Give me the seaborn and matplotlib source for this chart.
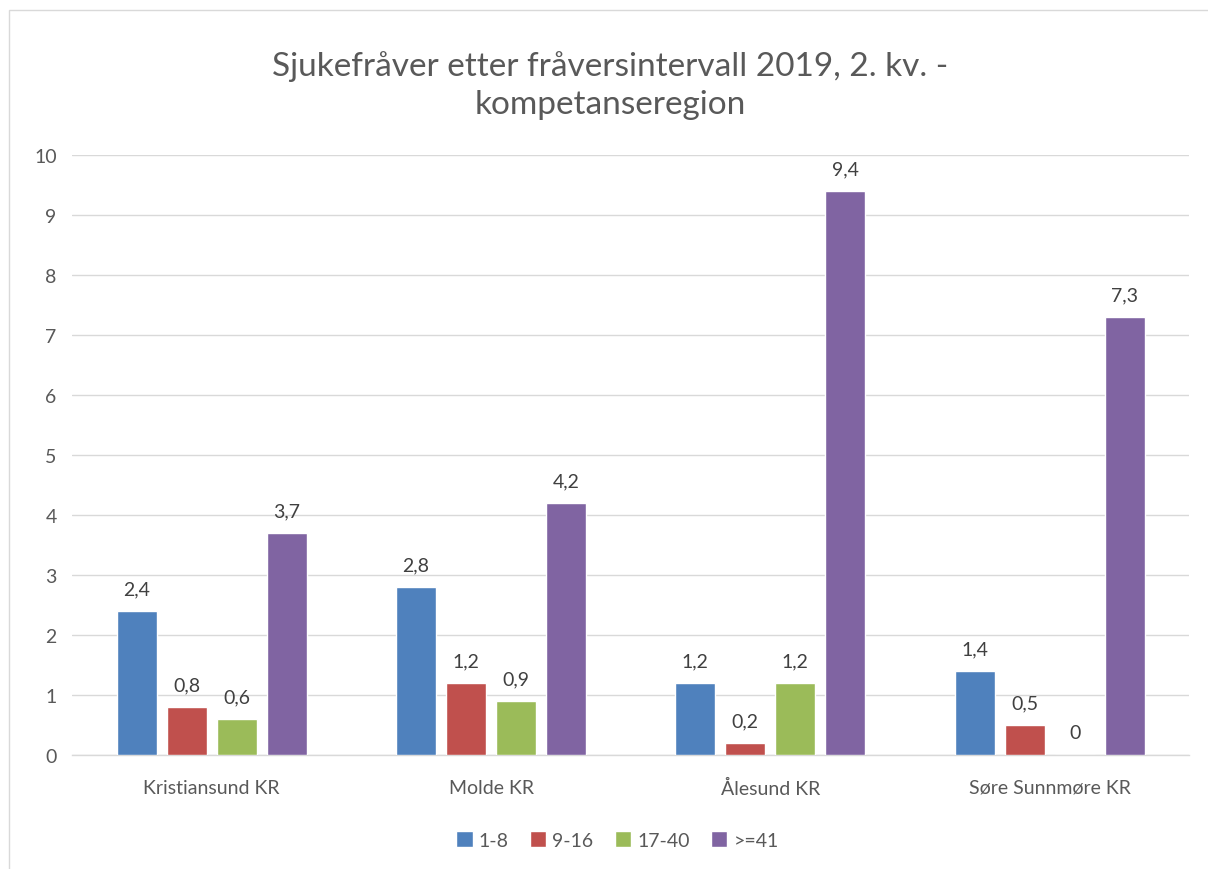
import pandas as pd
import matplotlib.pyplot as plt
import matplotlib.patches as patches
import seaborn as sns

sns.set_style("white")
plt.rcParams["font.family"] = ["Lato", "DejaVu Sans"]

# Data
regions = ["Kristiansund KR", "Molde KR", "Ålesund KR", "Søre Sunnmøre KR"]
intervals = ["1-8", "9-16", "17-40", ">=41"]
v_1_8 = [2.4, 2.8, 1.2, 1.4]
v_9_16 = [0.8, 1.2, 0.2, 0.5]
v_17_40 = [0.6, 0.9, 1.2, 0.0]
v_41 = [3.7, 4.2, 9.4, 7.3]
colors = ["#4F81BD", "#C0504D", "#9BBB59", "#8064A2"]

df = pd.DataFrame({
    "region": regions * 4,
    "interval": [i for i in intervals for _ in regions],
    "value": v_1_8 + v_9_16 + v_17_40 + v_41,
})

text_col = "#595959"
grid_col = "#D9D9D9"

fig = plt.figure(figsize=(12.08, 8.70), dpi=100)
ax = fig.add_axes([0.0596, 0.131, 0.925, 0.6897])

sns.barplot(data=df, x="region", y="value", hue="interval", order=regions,
            hue_order=intervals, palette=colors, width=0.716, gap=0.2,
            saturation=1, ax=ax, zorder=3)

ax.set_ylim(0, 10)
ax.set_yticks(range(0, 11))
ax.set_xlim(-0.5, 3.5)
ax.yaxis.grid(True, color=grid_col, linewidth=1, zorder=0)
ax.set_axisbelow(True)
for s in ["top", "right", "left"]:
    ax.spines[s].set_visible(False)
ax.spines["bottom"].set_color(grid_col)
ax.spines["bottom"].set_linewidth(1)
ax.tick_params(axis="both", length=0, labelsize=14, colors=text_col)
ax.tick_params(axis="y", pad=11)
ax.tick_params(axis="x", pad=17)
ax.set_xlabel("")
ax.set_ylabel("")

# data labels with comma decimals
for cont in ax.containers:
    labs = []
    for v in cont.datavalues:
        labs.append("0" if v == 0 else f"{v:.1f}".replace(".", ","))
    ax.bar_label(cont, labels=labs, padding=10, fontsize=14, color="#404040")

ax.legend(loc="upper center", bbox_to_anchor=(0.488, -0.098), ncol=4,
          frameon=False, fontsize=14, handlelength=0.85, handleheight=0.85,
          handletextpad=0.3, columnspacing=1.1, labelcolor=text_col)

fig.suptitle("Sjukefråver etter fråversintervall 2019, 2. kv. -\nkompetanseregion",
             x=0.505, y=0.941, fontsize=24, color=text_col, linespacing=1.3)

# outer chart border
fig.patches.append(patches.Rectangle((9 / 1208, -0.1), 1.2, 1.1 - 11 / 870,
                                     transform=fig.transFigure, fill=False,
                                     edgecolor=grid_col, linewidth=1))

fig.savefig("out.png", dpi=100)
